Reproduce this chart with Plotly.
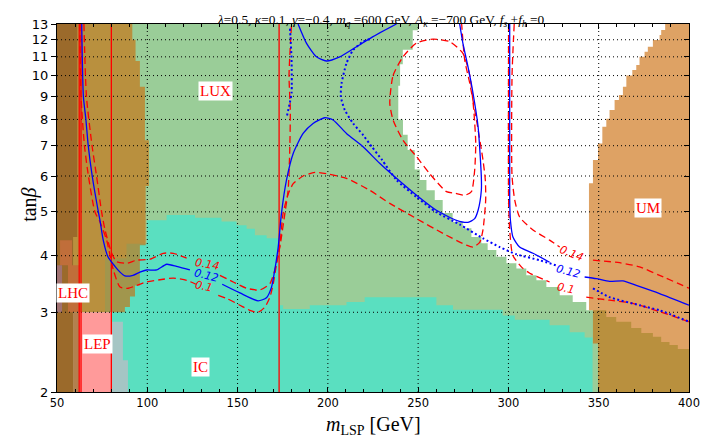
import math
import plotly.graph_objects as go

# ---------------- data (m_LSP [GeV], tan beta) ----------------
X_TICKS = [50, 100, 150, 200, 250, 300, 350, 400]
Y_TICKS = [2, 3, 4, 5, 6, 7, 8, 9, 10, 11, 12, 13]
X_GRID = [100, 150, 200, 250, 300, 350]
Y_GRID = [3, 4, 5, 6, 7, 8, 9, 10, 11, 12]

# LUX excluded region: right edge as steps (x of band, top of band)
LUX_EDGE_X = [250, 247, 241.5, 240, 239, 241.6, 244.2, 248.1, 250.9, 254.6, 259.2, 263.6, 269.1,
              274.7, 279.5, 285, 288.5, 293.3, 298.9, 304.4, 309.9, 315.5, 321, 328.4, 335.6,
              343.1, 354.2, 359.7, 368, 373.6, 380, 384.6, 389.2, 393.8, 400]
LUX_EDGE_Y = [13, 12.6, 11.4, 10.6, 9.5, 8.0, 7.4, 6.85, 6.2, 5.88, 5.58, 5.31, 4.97,
              4.75, 4.6, 4.4, 4.26, 4.12, 3.98, 3.85, 3.75, 3.62, 3.53, 3.41, 3.27,
              3.16, 3.03, 2.93, 2.86, 2.77, 2.70, 2.65, 2.58, 2.54, 2.49]

# IC excluded region: top edge as steps (left x of band, height), left edge
IC_TOP_X = [99.8, 110.7, 126.4, 141.1, 149.4, 155.0, 159.6, 166.1, 173.1, 175.2, 190.0, 210.3,
            220.4, 260.1, 269.3, 296.8, 303.5, 322.8, 333.9, 342.2]
IC_TOP_Y = [4.79, 4.92, 4.85, 4.76, 4.67, 4.59, 4.44, 4.37, 3.11, 3.05, 3.11, 3.16,
            3.24, 3.11, 3.04, 2.95, 2.89, 2.81, 2.71, 2.64]
IC_RIGHT_X = 346.6
IC_LEFT_X = [99.8, 99.8, 88.5, 88.5, 76.6, 76.6, 80.4, 80.4]
IC_LEFT_Y = [4.79, 4.25, 4.25, 3.95, 3.95, 3.0, 3.0, 2.0]

# left (LHC) orange region: right edge as steps
LHC_EDGE_X = [91.7, 93.5, 95.9, 98.7, 100.9, 99.1, 95.9, 93.2, 90.4, 87.6]
LHC_EDGE_Y = [13, 12.0, 10.77, 9.45, 7.2, 5.7, 4.22, 3.44, 3.25, 3.08]
LHC_BOTTOM = 3.0

# UM region: left edge as steps
UM_EDGE_X = [386.8, 384.6, 383.7, 380.0, 377.2, 375.4, 372.6, 370.8, 368.6, 365.3, 363.4, 361.2,
             358.8, 356.0, 354.2, 352.0, 349.6, 346.8, 344.6, 346.8, 349.6]
UM_EDGE_Y = [13, 12.61, 12.29, 11.98, 11.58, 11.29, 11.0, 10.55, 10.29, 10.0, 9.45, 9.06,
             8.83, 8.39, 8.03, 7.71, 7.08, 6.51, 5.78, 3.03, 2.56]

# small patches at low mass
DARK_X = [50, 61.2, 61.2, 58.9, 58.9, 50]
DARK_Y = [13, 13, 4.4, 4.4, 2, 2]
PATCH_OR_X = [51.7, 58.3, 58.3, 62.2, 62.2, 56.1, 56.1, 51.7]
PATCH_OR_Y = [4.33, 4.33, 3.81, 3.81, 3.0, 3.0, 3.81, 3.81]
PATCH_MV_X = [50, 52.8, 52.8, 50]
PATCH_MV_Y = [3.81, 3.81, 3.0, 3.0]
PATCH_TAN_X = [58.9, 62.2, 62.2, 58.9]
PATCH_TAN_Y = [3.0, 3.0, 2, 2]
LEP_X = [62.3, 80.4, 80.4, 62.3]
LEP_Y = [3.0, 3.0, 2, 2]
GRAY_X = [80.4, 86.5, 86.5, 89.3, 89.3, 80.4]
GRAY_Y = [2.86, 2.86, 2.35, 2.35, 2, 2]

VLINE_X = [62.3, 63.3, 80.1, 173.0]

# relic density contours  (None = gap for inline label)
BLUE_MAIN_X = [63.7, 64.6, 66.0, 67.3, 69.5, 72.9, 73.8, 75.6, 78.2, 82.1, 84.9, 87.6, 92.1, 95.9,
               99.6, 105.2, 110.7, 116.2, 122.5, 123.6, None, 141.5, 151.3, 161.4, 166.0, 168.8,
               170.6, 172.5, 174.3, 177.1, 180.8, 186.3, 191.8, 198.3, 202.9, 210.3, 219.5, 228.7,
               238.0, 249.1, 260.1, 271.2, 277.6, 281.3, 283.2, 285.0, 285.0, 283.2, 280.4, 277.6,
               274.8, 273.0]
BLUE_MAIN_Y = [13, 9, 8, 7, 6, 5, 4.79, 4.33, 3.98, 3.79, 3.68, 3.61, 3.62, 3.68,
               3.72, 3.72, 3.83, 3.79, 3.73, 3.72, None, 3.46, 3.31, 3.18, 3.23, 3.41,
               3.72, 4.18, 4.96, 5.88, 6.73, 7.45, 7.84, 8.07, 7.98, 7.45, 6.96, 6.40,
               5.93, 5.44, 5.04, 4.79, 4.74, 4.83, 5.04, 5.58, 5.97, 7.71, 9.14, 10.46,
               11.78, 13]
BLUE_ARC_X = [183.5, 188.2, 193.7, 199.2, 206.6, 215.9, 225.0, 238.0]
BLUE_ARC_Y = [13, 11.78, 11.0, 10.77, 11.0, 11.58, 12.19, 13]
BLUE_RIGHT_X = [300.7, 300.7, 301.1, 302.5, 306.2, 313.6, 322.8, None, 342.2, 348.7, 356.0, 363.4,
                370.8, 383.7, 400]
BLUE_RIGHT_Y = [13, 5.31, 4.79, 4.40, 4.18, 4.05, 3.87, None, 3.59, 3.56, 3.51, 3.52,
                3.44, 3.30, 3.11]
DOT1_X = [179.0, 179.3, 179.9, 179.9, 178.9, 177.1]
DOT1_Y = [12.7, 12.19, 10.82, 9.15, 8.70, 8.06]
DOT2_X = [223.2, 219.5, 214.0, 210.3, 207.6, 207.2, 209.4, 214.0, 219.5, 224.5, 230.0, 238.0,
          249.1, 260.1, 273.0, 285.9, 295.2, 304.4, 317.3, 326.2, None, 346.8, 356.0, 372.6,
          383.7, 400]
DOT2_Y = [12.05, 11.88, 11.39, 10.64, 9.61, 8.98, 8.39, 7.84, 7.39, 6.95, 6.51, 5.88,
          5.39, 4.99, 4.69, 4.37, 4.18, 4.03, 3.91, 3.81, None, 3.39, 3.24, 3.11,
          3.03, 2.86]
R14_X = [64.9, 66.3, 69.4, 71.9, 74.7, 76.6, 80.3, 83.0, 88.6, 94.1, 101.5, 108.8, 114.4, 121.8,
         None, 140.2, 147.6, 155.0, 162.3, 167.9, 170.6, 173.4, 176.2, 178.0, 178.9, 179.2,
         178.5, 179.9]
R14_Y = [13, 9, 7, 6, 5, 4.56, 4.05, 3.88, 3.85, 3.91, 3.93, 4.05, 4.05, 3.95,
         None, 3.62, 3.50, 3.39, 3.36, 3.47, 3.72, 4.18, 4.96, 5.58, 6.85, 8.39,
         10.0, 13]
R10_X = [62.7, 63.3, 65.2, 67.4, 71.0, 73.8, 77.5, 81.2, 84.9, 89.5, 94.1, 99.6, 107.0, 114.4,
         121.8, 126.9, None, 139.3, 143.9, 151.3, 156.8, 161.4, 165.1, 167.9, 169.7, 171.6,
         173.4, 175.2, 177.8, 180.8, 186.3, 192.8, 199.2, 210.3, 223.2, 234.3, 249.1, 263.8,
         276.7, 280.4, 284.1, 285.9, 287.4, 287.2, 285.9, 282.3, 278.6, 275.8, 274.1]
R10_Y = [13, 9, 7, 6, 5, 4.75, 4.33, 3.72, 3.41, 3.39, 3.44, 3.50, 3.54, 3.57,
         3.53, 3.46, None, 3.27, 3.22, 3.11, 3.03, 3.0, 3.08, 3.24, 3.46, 3.84,
         4.22, 4.96, 5.44, 5.77, 6.0, 6.11, 6.07, 5.93, 5.58, 5.22, 4.83, 4.48,
         4.22, 4.18, 4.28, 4.56, 5.31, 5.88, 6.51, 7.98, 9.61, 10.82, 13]
R14_LOOP_X = [234.3, 236.1, 241.6, 249.1, 258.3, 267.5, 274.8, 278.6, 280.8, 281.9, 281.3, 279.5,
              275.8, 270.3, 265.7, 256.4, 249.1, 241.6, 236.1, 234.3]
R14_LOOP_Y = [8.69, 10.0, 11.0, 11.8, 12.04, 11.88, 11.2, 10.0, 8.39, 7.08, 6.18, 5.54,
              5.44, 5.50, 5.54, 6.07, 6.62, 7.2, 7.98, 8.69]
R14_RIGHT_X = [303.2, 302.0, 302.0, 303.5, 306.2, 313.6, 322.8, 328.4, None, 346.8, 361.6, 372.6,
               383.7, 400]
R14_RIGHT_Y = [13, 10, 6, 5.31, 4.87, 4.56, 4.33, 4.18, None, 3.91, 3.86, 3.78,
               3.62, 3.39]
R10_RIGHT_X = [300.1, 300.1, 300.7, 302.4, 307.4, 311.8, 322.8, None, 343.1, 356.0, 368.9, 383.7, 400]
R10_RIGHT_Y = [13, 5.31, 4.56, 4.01, 3.77, 3.66, 3.50, None, 3.24, 3.19, 3.14, 3.01, 2.86]

REGION_TEXT = ["LUX", "LHC", "LEP", "IC", "UM"]
REGION_X = [138.0, 58.6, 72.4, 129.7, 377.1]
REGION_Y = [9.24, 3.31, 2.55, 2.27, 5.11]

CLABEL_TEXT = ["0.14", "0.12", "0.1", "0.14", "0.12", "0.1"]
CLABEL_X = [133.3, 132.7, 131.6, 334.7, 333.1, 332.0]
CLABEL_Y = [3.83, 3.61, 3.42, 4.04, 3.70, 3.39]
CLABEL_ANGLE = [10, 14, 12, 22, 15, 12]
CLABEL_COLOR = ["red", "blue", "red", "red", "blue", "red"]

# ---------------- colours ----------------
C_GREEN = "#9acd98"
C_TEAL = "#5adfc0"
C_ORANGE = "rgba(203,107,9,0.63)"
C_DARK = "#9b6a2b"
C_PATCH_OR = "#c06e3a"
C_PATCH_MV = "#a07272"
C_PATCH_TAN = "#b3804f"
C_LEP = "#ff9a9a"
C_GRAY = "#a5c5c4"


def down_steps(xs, ys, y_end):
    pts = []
    for i in range(len(xs)):
        y_next = ys[i + 1] if i + 1 < len(ys) else y_end
        pts += [(xs[i], ys[i]), (xs[i], y_next)]
    return pts


def right_steps(xs, ys, x_end):
    pts = []
    for i in range(len(xs)):
        x_next = xs[i + 1] if i + 1 < len(xs) else x_end
        pts += [(xs[i], ys[i]), (x_next, ys[i])]
    return pts


fig = go.Figure()


def poly(pts, color):
    fig.add_trace(go.Scatter(x=[p[0] for p in pts], y=[p[1] for p in pts], mode="lines",
                             fill="toself", fillcolor=color, line=dict(width=0),
                             hoverinfo="skip", showlegend=False))


xmin, xmax, ymin, ymax = X_TICKS[0], X_TICKS[-1], Y_TICKS[0], Y_TICKS[-1]

# LUX (green)
poly([(xmin, ymax)] + down_steps(LUX_EDGE_X, LUX_EDGE_Y, ymin) + [(xmin, ymin)], C_GREEN)
# IC (teal)
left = list(zip(IC_LEFT_X, IC_LEFT_Y))[::-1]
poly(left + right_steps(IC_TOP_X, IC_TOP_Y, IC_RIGHT_X) + [(IC_RIGHT_X, ymin)], C_TEAL)
# LHC-side orange and UM orange (translucent)
poly([(xmin, ymax)] + down_steps(LHC_EDGE_X, LHC_EDGE_Y, LHC_BOTTOM) + [(xmin, LHC_BOTTOM)], C_ORANGE)
poly([(xmax, ymax)] + down_steps(UM_EDGE_X, UM_EDGE_Y, ymin) + [(xmax, ymin)], C_ORANGE)
# low-mass patches
poly(list(zip(DARK_X, DARK_Y)), C_DARK)
poly(list(zip(PATCH_OR_X, PATCH_OR_Y)), C_PATCH_OR)
poly(list(zip(PATCH_MV_X, PATCH_MV_Y)), C_PATCH_MV)
poly(list(zip(PATCH_TAN_X, PATCH_TAN_Y)), C_PATCH_TAN)
poly(list(zip(LEP_X, LEP_Y)), C_LEP)
poly(list(zip(GRAY_X, GRAY_Y)), C_GRAY)

# grid (drawn above the fills)
gx, gy = [], []
for v in X_GRID:
    gx += [v, v, None]
    gy += [ymin, ymax, None]
for v in Y_GRID:
    gx += [xmin, xmax, None]
    gy += [v, v, None]
fig.add_trace(go.Scatter(x=gx, y=gy, mode="lines", line=dict(color="black", width=1, dash="1px,3px"),
                         hoverinfo="skip", showlegend=False))

# vertical red lines
vx, vy = [], []
for v in VLINE_X:
    vx += [v, v, None]
    vy += [ymin, ymax, None]
fig.add_trace(go.Scatter(x=vx, y=vy, mode="lines", line=dict(color="red", width=1.3),
                         hoverinfo="skip", showlegend=False))


def curve(xs, ys, color, dash, width=1.3):
    fig.add_trace(go.Scatter(x=xs, y=ys, mode="lines", connectgaps=False,
                             line=dict(color=color, width=width, dash=dash, shape="spline", smoothing=0.6),
                             hoverinfo="skip", showlegend=False))


for xs, ys in [(R14_X, R14_Y), (R10_X, R10_Y), (R14_LOOP_X, R14_LOOP_Y),
               (R14_RIGHT_X, R14_RIGHT_Y), (R10_RIGHT_X, R10_RIGHT_Y)]:
    curve(xs, ys, "red", "7px,4px")
for xs, ys in [(DOT1_X, DOT1_Y), (DOT2_X, DOT2_Y)]:
    curve(xs, ys, "blue", "2px,2.5px", 2)
for xs, ys in [(BLUE_MAIN_X, BLUE_MAIN_Y), (BLUE_ARC_X, BLUE_ARC_Y), (BLUE_RIGHT_X, BLUE_RIGHT_Y)]:
    curve(xs, ys, "blue", "solid")

# invisible trace for right-hand y axis ticks
fig.add_trace(go.Scatter(x=[xmin], y=[ymin], yaxis="y2", mode="markers", marker=dict(opacity=0),
                         hoverinfo="skip", showlegend=False))

annotations = []
SERIF = "Liberation Serif"
for t, x, y in zip(REGION_TEXT, REGION_X, REGION_Y):
    annotations.append(dict(x=x, y=math.log10(y), xref="x", yref="y", text=t, showarrow=False,
                            font=dict(family=SERIF, size=15, color="red"), bgcolor="white", borderpad=1))
for t, x, y, a, c in zip(CLABEL_TEXT, CLABEL_X, CLABEL_Y, CLABEL_ANGLE, CLABEL_COLOR):
    annotations.append(dict(x=x, y=math.log10(y), xref="x", yref="y", text="<i>" + t + "</i>",
                            showarrow=False, textangle=a,
                            font=dict(family="DejaVu Sans", size=11, color=c)))
annotations.append(dict(x=0.5115, y=1.038, xref="paper", yref="paper", showarrow=False, xanchor="center",
                        text="<i>λ</i>=0.5, <i>κ</i>=0.1, <i>γ</i>=−0.4, <i>m</i><sub><i>q</i></sub> =600 GeV, "
                             "<i>A</i><sub><i>κ</i></sub> =−700 GeV, <i>f</i><sub><i>s</i></sub> +<i>f</i><sub><i>h</i></sub> =0",
                        font=dict(family=SERIF, size=13.4, color="black")))
annotations.append(dict(x=0.5, y=-0.09, xref="paper", yref="paper", showarrow=False, yanchor="middle",
                        text="<i>m</i><sub>LSP</sub> [GeV]", font=dict(family=SERIF, size=20, color="black")))
annotations.append(dict(x=-0.066, y=0.508, xref="paper", yref="paper", showarrow=False, textangle=-90,
                        text="tan<i>β</i>", font=dict(family=SERIF, size=20, color="black")))

yr = [math.log10(ymin), math.log10(ymax)]
fig.update_layout(
    width=706, height=442,
    margin=dict(l=57, r=16.5, t=24, b=50.3, autoexpand=False),
    paper_bgcolor="white", plot_bgcolor="white",
    showlegend=False,
    annotations=annotations,
    xaxis=dict(range=[xmin, xmax], tickvals=X_TICKS, ticktext=[str(v) for v in X_TICKS],
               ticks="inside", ticklen=5, tickcolor="black", showline=True, linecolor="black",
               linewidth=1, mirror="ticks", showgrid=False, zeroline=False, automargin=False,
               tickfont=dict(family="DejaVu Sans", size=11.5, color="black"),
               minor=dict(dtick=10, ticks="inside", ticklen=3, tickcolor="black", showgrid=False)),
    yaxis=dict(type="log", range=yr, tickvals=Y_TICKS, ticktext=[str(v) for v in Y_TICKS],
               ticks="outside", ticklen=5, tickcolor="black", showline=True, linecolor="black",
               linewidth=1, mirror=True, showgrid=False, zeroline=False, automargin=False,
               tickfont=dict(family="DejaVu Sans", size=13, color="black")),
    yaxis2=dict(type="log", range=yr, overlaying="y", side="right", tickvals=Y_TICKS,
                ticks="inside", ticklen=5, tickcolor="black", showticklabels=False,
                showgrid=False, zeroline=False, showline=False, automargin=False),
)

fig.write_html("out.html", config={"displayModeBar": False})

# remove the browser's default page margin so the figure sits at the window origin
with open("out.html", encoding="utf-8") as fh:
    page = fh.read()
page = page.replace("<head>", "<head><style>html,body{margin:0;padding:0;overflow:hidden;}</style>", 1)
with open("out.html", "w", encoding="utf-8") as fh:
    fh.write(page)
